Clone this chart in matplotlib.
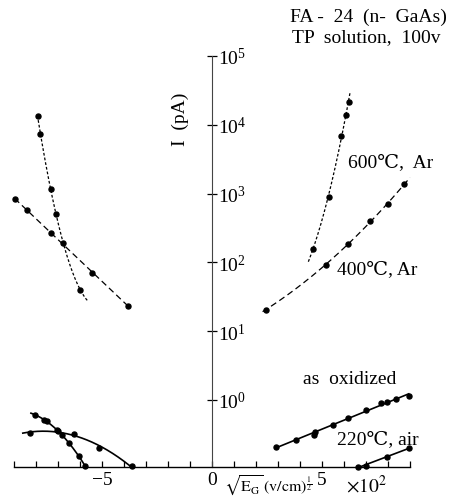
import numpy as np
import matplotlib
matplotlib.use("Agg")
import matplotlib.pyplot as plt
from matplotlib.transforms import blended_transform_factory

plt.rcParams["font.family"] = ["Liberation Serif", "DejaVu Serif"]
plt.rcParams["mathtext.fontset"] = "stix"

# sqrt(E_G) in units of 10^2 (v/cm)^1/2 ; current I in pA
# negative bias branch
x_600_neg = [-7.90, -7.83, -7.32, -7.10, -5.99]
i_600_neg = [1.33e4, 7.3e3, 1.15e3, 510, 40]
x_400_neg = [-8.97, -8.42, -7.32, -6.76, -5.47, -3.83]
i_400_neg = [824, 583, 267, 193, 70.6, 23.4]
x_ox_neg = [-8.06, -7.64, -7.51, -7.06, -6.83, -6.49, -6.06, -5.76]
i_ox_neg = [0.611, 0.516, 0.494, 0.362, 0.313, 0.234, 0.155, 0.108]
x_220_neg = [-8.27, -7.00, -6.26, -5.14, -3.65]
i_220_neg = [0.334, 0.348, 0.323, 0.198, 0.108]

# positive bias branch
x_600_pos = [4.59, 5.30, 5.88, 6.08, 6.21]
i_600_pos = [158, 900, 6.9e3, 1.37e4, 2.15e4]
x_400_pos = [2.45, 5.18, 6.20, 7.20, 7.99, 8.74]
i_400_pos = [20.6, 93, 188, 394, 705, 1380]
x_ox_pos = [2.91, 3.82, 4.64, 4.67, 5.49, 6.20, 7.00, 7.68, 7.94, 8.36, 8.94]
i_ox_pos = [0.205, 0.264, 0.31, 0.346, 0.433, 0.542, 0.722, 0.895, 0.926, 1.03, 1.13]
x_220_pos = [6.62, 7.00, 7.95, 8.94]
i_220_pos = [0.106, 0.111, 0.15, 0.198]

x_ticks_major = list(range(-9, 10))
x_tick_labels = {-5: "\u22125", 0: "0", 5: "5"}
y_decades = [0, 1, 2, 3, 4, 5]

fig = plt.figure(figsize=(4.54, 5.02), dpi=100)
ax = fig.add_axes([12.9 / 454, 34 / 502, 398.2 / 454, 411 / 502])
ax.set_yscale("log")
ax.set_xlim(-9.05, 9.05)
ax.set_ylim(10 ** -0.975, 1e5)


def fitted(x, i, deg, span):
    c = np.polyfit(x, np.log10(i), deg)
    xs = np.linspace(span[0], span[1], 200)
    return xs, 10 ** np.polyval(c, xs)


dotted = (0, (2.2, 1.6))
dashed = (0, (5, 3))
curves = [
    (x_600_neg, i_600_neg, 2, (-7.90, -5.65), dotted, 0.9),
    (x_400_neg, i_400_neg, 1, (-8.97, -3.83), dashed, 0.9),
    (x_ox_neg, i_ox_neg, 2, (-8.23, -5.76), "-", 1.2),
    (x_220_neg, i_220_neg, 2, (-8.6, -3.65), "-", 1.2),
    (x_600_pos, i_600_pos, 2, (4.38, 6.27), dotted, 0.9),
    (x_400_pos, i_400_pos, 2, (2.30, 9.0), dashed, 0.9),
    (x_ox_pos, i_ox_pos, 1, (2.91, 8.94), "-", 1.2),
    (x_220_pos, i_220_pos, 1, (6.62, 8.94), "-", 1.2),
]
for x, i, deg, span, ls, lw in curves:
    xs, ys = fitted(x, i, deg, span)
    ax.plot(xs, ys, color="black", linestyle=ls, linewidth=lw, clip_on=False)
    ax.plot(x, i, "o", color="black", markersize=3.6, clip_on=False)

# axes: vertical axis through x = 0, labels to its right
for s in ("top", "left"):
    ax.spines[s].set_visible(False)
ax.spines["right"].set_position(("data", 0))
ax.spines["right"].set_bounds(10 ** -0.975, 1e5)
ax.spines["right"].set_color("#444444")
ax.yaxis.tick_right()
ax.set_yticks([10.0 ** d for d in y_decades])
ax.yaxis.set_minor_locator(matplotlib.ticker.NullLocator())
ax.tick_params(axis="y", direction="inout", length=7, width=0.9, labelsize=14, pad=1)

ax.set_xticks(x_ticks_major)
ax.set_xticklabels([x_tick_labels.get(t, "") for t in x_ticks_major])
ax.tick_params(axis="x", direction="in", length=4, width=0.9, labelsize=14, pad=3)
ax.spines["bottom"].set_bounds(-9, 9)
ax.spines["bottom"].set_linewidth(1.0)

trans = blended_transform_factory(ax.transData, ax.transAxes)
ax.text(0.55, -0.043, r"$\sqrt{\mathrm{E_G}}\,(\mathrm{v/cm})^{\frac{1}{2}}$",
        transform=trans, ha="left", va="center", fontsize=11.5)
ax.text(7.0, -0.043, r"$\times10^{2}$", transform=trans, ha="center",
        va="center", fontsize=14)

ax.text(-1.45, 10 ** 4.1, "I  (pA)", rotation=90, ha="center", va="center",
        fontsize=14)

lab = dict(fontsize=14, ha="left", va="center")
ax.text(6.18, 10 ** 3.46, "600\u2103,  Ar", **lab)
ax.text(5.68, 10 ** 1.905, "400\u2103, Ar", **lab)
ax.text(4.14, 10 ** 0.305, "as  oxidized", **lab)
ax.text(5.68, 10 ** -0.567, "220\u2103, air", **lab)

fig.text(447 / 454, 1 - 17 / 502, "FA -  24  (n-  GaAs)", ha="right",
         va="center", fontsize=14)
fig.text(441 / 454, 1 - 38 / 502, "TP  solution,  100v", ha="right",
         va="center", fontsize=14)

fig.savefig("out.png", dpi=100)
